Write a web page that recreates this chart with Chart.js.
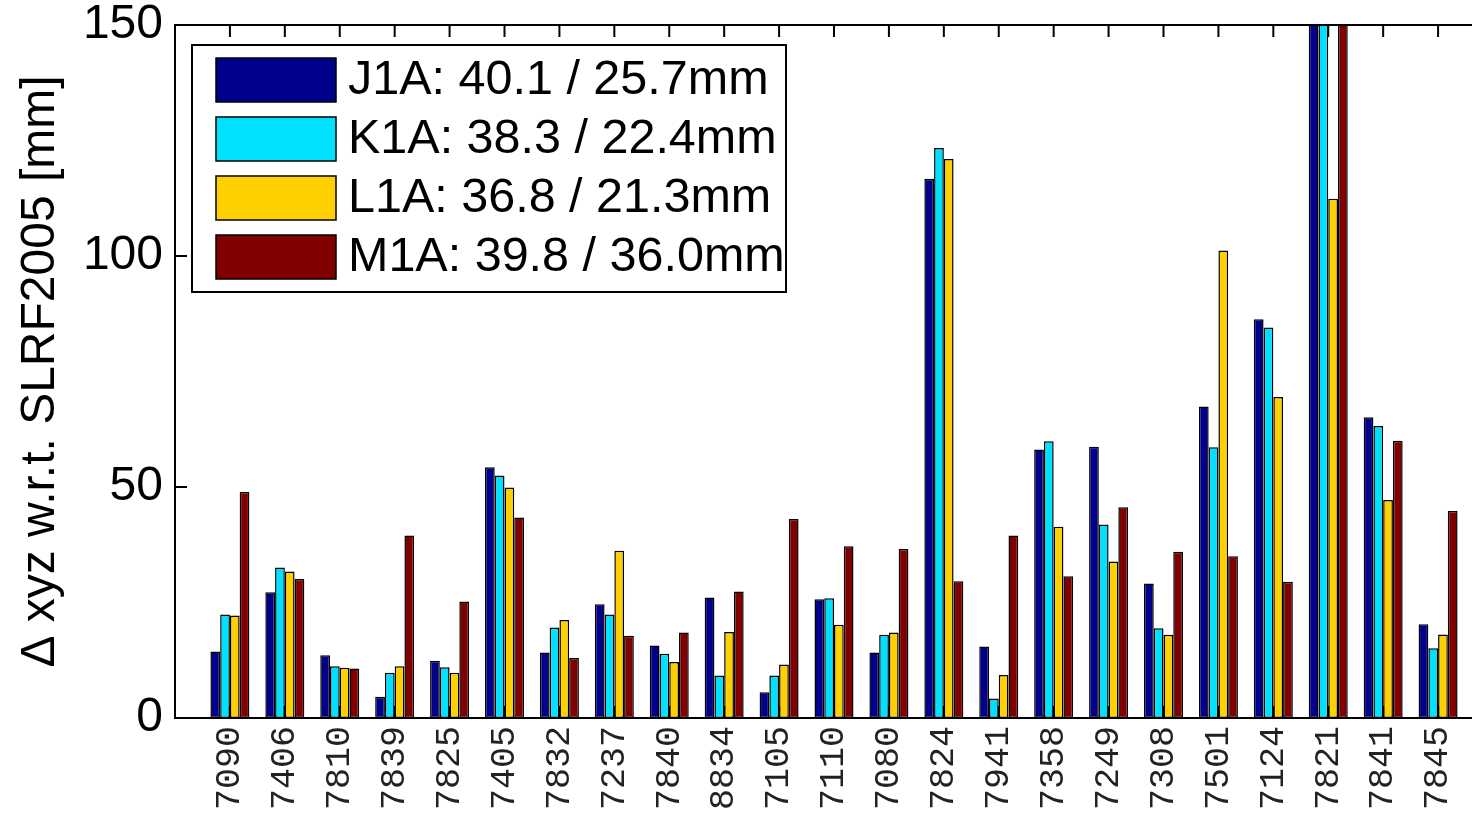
<!DOCTYPE html>
<html>
<head>
<meta charset="utf-8">
<script src="https://cdn.jsdelivr.net/npm/chart.js@4.4.1/dist/chart.umd.min.js"></script>
<style>
  html, body { margin: 0; padding: 0; background: #fff; overflow: hidden; }
  #wrap { width: 1500px; height: 814px; }
</style>
</head>
<body>
<div id="wrap"><canvas id="c"></canvas></div>
<script>
// stations on the x axis
const stations = ['7090', '7406', '7810', '7839', '7825', '7405', '7832', '7237', '7840', '8834', '7105', '7110',
  '7080', '7824', '7941', '7358', '7249', '7308', '7501', '7124', '7821', '7841', '7845'];

// values in mm (7821 runs off the top of the axis)
const j1a = [14.4, 27.2, 13.6, 4.6, 12.4, 54.3, 14.2, 24.6, 15.7, 26.1, 5.6, 25.7, 14.2, 116.7, 15.5, 58.1, 58.7, 29.1, 67.4, 86.3, 165, 65.1, 20.3];
const k1a = [22.4, 32.6, 11.2, 9.8, 11.0, 52.5, 19.6, 22.4, 13.9, 9.2, 9.2, 25.9, 18.0, 123.4, 4.2, 59.9, 41.9, 19.4, 58.6, 84.5, 170, 63.2, 15.1];
const l1a = [22.2, 31.7, 10.9, 11.2, 9.8, 49.9, 21.2, 36.2, 12.1, 18.6, 11.6, 20.2, 18.5, 121.0, 9.3, 41.4, 33.9, 18.0, 101.2, 69.5, 112.4, 47.2, 18.1];
const m1a = [48.9, 30.1, 10.7, 39.5, 25.2, 43.4, 13.0, 17.8, 18.5, 27.4, 43.1, 37.2, 36.6, 29.6, 39.5, 30.7, 45.6, 36.0, 35.0, 29.5, 180, 60.0, 44.8];

const seriesNames = ['J1A: 40.1 / 25.7mm', 'K1A: 38.3 / 22.4mm', 'L1A: 36.8 / 21.3mm', 'M1A: 39.8 / 36.0mm'];
const seriesColors = ['#00008c', '#00e0ff', '#ffd000', '#800000'];
const yTicks = [0, 50, 100, 150];

// one empty slot on each side, like xlim [0 24]
const pad = arr => [null, ...arr, null];

const sans = 'Liberation Sans, Arial, Helvetica, sans-serif';

const boxPlugin = {
  id: 'box',
  afterDraw(chart) {
    const ctx = chart.ctx;
    const a = chart.chartArea;
    const x = chart.scales.x, y = chart.scales.y;
    ctx.save();
    ctx.strokeStyle = '#000';
    ctx.lineWidth = 2;
    ctx.strokeRect(a.left, a.top, a.right - a.left, a.bottom - a.top);
    ctx.beginPath();
    for (let i = 1; i <= stations.length; i++) {
      const px = x.getPixelForTick(i);
      ctx.moveTo(px, a.top); ctx.lineTo(px, a.top + 12);
      ctx.moveTo(px, a.bottom); ctx.lineTo(px, a.bottom - 12);
    }
    yTicks.forEach(v => {
      const py = y.getPixelForValue(v);
      ctx.moveTo(a.left, py); ctx.lineTo(a.left + 12, py);
      ctx.moveTo(a.right, py); ctx.lineTo(a.right - 12, py);
    });
    ctx.stroke();

    // legend box
    ctx.fillStyle = '#fff';
    ctx.fillRect(192, 45, 594, 247);
    ctx.lineWidth = 2;
    ctx.strokeRect(192, 45, 594, 247);
    ctx.font = '48.5px ' + sans;
    ctx.textBaseline = 'middle';
    seriesNames.forEach((name, i) => {
      const top = 58 + i * 59;
      ctx.fillStyle = seriesColors[i];
      ctx.fillRect(216, top, 120, 44);
      ctx.lineWidth = 1.5;
      ctx.strokeRect(216, top, 120, 44);
      ctx.fillStyle = '#000';
      ctx.fillText(name, 348, top + 23);
    });
    ctx.restore();
  }
};

new Chart(document.getElementById('c'), {
  type: 'bar',
  data: {
    labels: pad(stations).map(s => s || ''),
    datasets: [j1a, k1a, l1a, m1a].map((d, i) => ({
      label: seriesNames[i],
      data: pad(d),
      backgroundColor: seriesColors[i],
      borderColor: '#000',
      borderWidth: 1.5,
      borderSkipped: false,
      categoryPercentage: 0.71,
      barPercentage: 1.0
    }))
  },
  options: {
    responsive: true,
    maintainAspectRatio: false,
    animation: false,
    layout: { padding: { top: 25, right: 7, left: 0, bottom: 0 } },
    plugins: {
      legend: { display: false },
      tooltip: { enabled: false }
    },
    scales: {
      x: {
        offset: false,
        grid: { display: false, drawTicks: false },
        border: { display: true, color: '#000', width: 2 },
        ticks: {
          autoSkip: false,
          maxRotation: 90,
          minRotation: 90,
          padding: 8,
          color: '#222',
          font: { family: 'Liberation Mono, monospace', size: 35 }
        },
        afterFit(s) { s.height = 96; s.paddingLeft = 0; s.paddingRight = 0; }
      },
      y: {
        min: 0,
        max: 150,
        grid: { display: false, drawTicks: false },
        border: { display: true, color: '#000', width: 2 },
        ticks: {
          stepSize: 50,
          padding: 12,
          color: '#000',
          font: { family: sans, size: 48 }
        },
        title: {
          display: true,
          text: 'Δ xyz w.r.t. SLRF2005 [mm]',
          color: '#000',
          font: { family: sans, size: 48 },
          padding: { top: 12, bottom: 0 }
        },
        afterFit(s) { s.width = 175; s.paddingTop = 0; s.paddingBottom = 0; }
      }
    }
  },
  plugins: [boxPlugin]
});
</script>
</body>
</html>
